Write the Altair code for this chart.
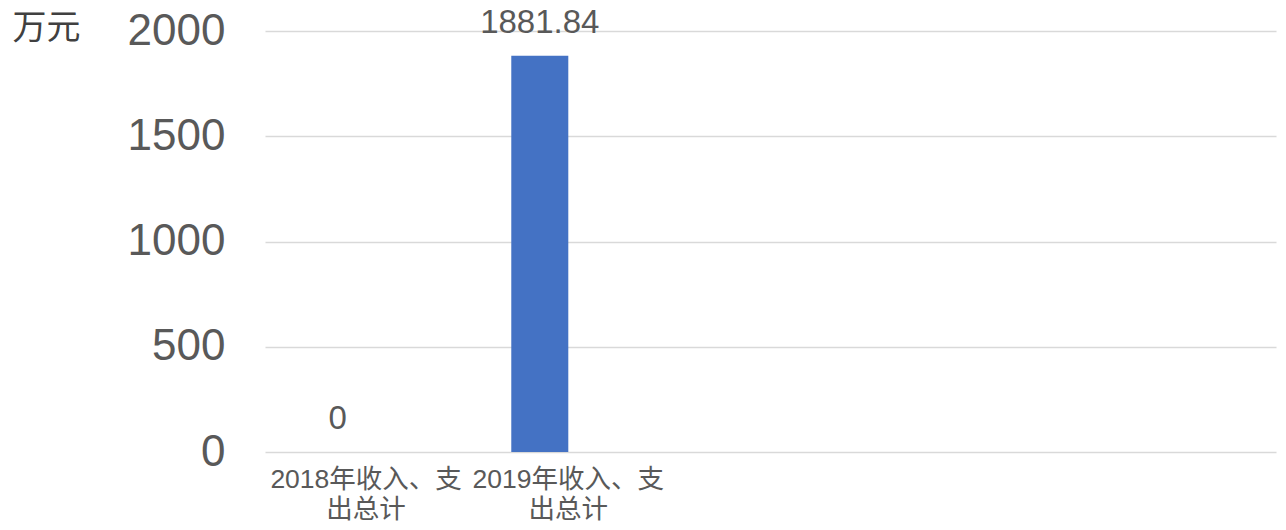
import altair as alt
import pandas as pd

categories = ["2018年收入、支出总计", "2019年收入、支出总计"]
values = [0, 1881.84]
series_name = "系列1"
all_series = ["系列1", "系列2"]
blank_slots = [" ", "  ", "   "]
y_ticks = [0, 500, 1000, 1500, 2000]

df = pd.DataFrame({"cat": categories, "val": values, "series": [series_name] * len(categories)})

FONT = "Liberation Sans, Noto Sans CJK SC"
TEXT_COLOR = "#595959"

x_enc = alt.X(
    "cat:N",
    sort=None,
    scale=alt.Scale(domain=categories + blank_slots, paddingInner=0.436, paddingOuter=0.218),
    axis=alt.Axis(
        title=None,
        labelAngle=0,
        labelFontSize=26.5,
        labelColor=TEXT_COLOR,
        labelFont=FONT,
        labelLineHeight=30,
        labelPadding=14,
        labelLimit=0,
        labelExpr="length(datum.label) > 9 ? [substring(datum.label, 0, 9), substring(datum.label, 9)] : datum.label",
        ticks=False,
        domain=False,
        grid=False,
    ),
)
xoff = alt.XOffset("series:N", scale=alt.Scale(domain=all_series, paddingInner=0))
y_enc = alt.Y(
    "val:Q",
    scale=alt.Scale(domain=[0, 2000], nice=False),
    axis=alt.Axis(
        values=y_ticks,
        format="d",
        title="万元",
        titleAngle=0,
        titleX=-219,
        titleY=-3,
        titleAlign="center",
        titleBaseline="middle",
        titleFontSize=34,
        titleFontWeight="normal",
        titleColor="#404040",
        titleFont="Noto Sans CJK SC",
        labelFontSize=44,
        labelColor=TEXT_COLOR,
        labelFont="Liberation Sans",
        labelPadding=40,
        ticks=False,
        domain=False,
        gridColor="#D9D9D9",
        gridWidth=1.3,
    ),
)

bars = alt.Chart(df).mark_bar(color="#4472C4").encode(x=x_enc, xOffset=xoff, y=y_enc)
labels = alt.Chart(df).mark_text(
    baseline="alphabetic", dy=-23, fontSize=33, color=TEXT_COLOR, font="Liberation Sans"
).encode(x=x_enc, xOffset=xoff, y=y_enc, text=alt.Text("val:Q", format=".2~f"))

chart = (
    alt.layer(bars, labels)
    .properties(
        width=1011,
        height=421,
        background="white",
        autosize=alt.AutoSizeParams(type="none"),
        padding={"left": 257, "top": 23, "right": 2, "bottom": 70},
    )
    .configure_view(stroke="transparent", strokeWidth=0)
)

chart.save("out.html", embed_options={"renderer": "svg", "actions": False})
